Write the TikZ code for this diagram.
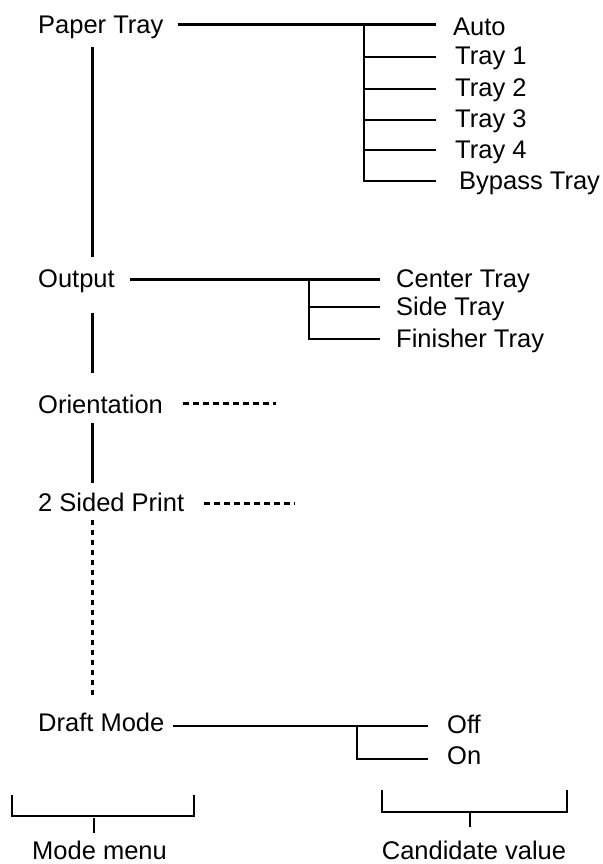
\documentclass[tikz,border=0pt]{standalone}
\usepackage{fontspec}
\setmainfont{Liberation Sans}
\usepackage{tikz}

\begin{document}
\begin{tikzpicture}[
  x=1pt,y=-1pt,
  lbl/.style={anchor=base west,inner sep=0pt,text height=21pt,text depth=5pt,
              font=\fontsize{25.5}{30}\selectfont},
  legendlbl/.style={lbl,anchor=base},
  link/.style={line width=2.6pt},
  todo/.style={line width=2.6pt,dash pattern=on 6pt off 4pt},
  skip/.style={line width=2.6pt,dash pattern=on 5pt off 5pt}
]
\useasboundingbox (0,0) rectangle (602,864);
\coordinate (trunk) at (92.6,0);
% mode menu column
\node[lbl] (paper) at (38,34) {Paper Tray};
\node[lbl] (out) at (38,287) {Output};
\node[lbl] (orient) at (38,413) {Orientation};
\node[lbl] (sided) at (38,511) {2 Sided Print};
\node[lbl] (draft) at (38,731) {Draft Mode};
% candidate values
\node[lbl] (auto) at (453,36) {Auto};
\node[lbl] (tray1) at (455,65) {Tray 1};
\node[lbl] (tray2) at (455,97) {Tray 2};
\node[lbl] (tray3) at (455,128) {Tray 3};
\node[lbl] (tray4) at (455,158) {Tray 4};
\node[lbl] (bypass) at (459,189) {Bypass Tray};
\node[lbl] (center) at (396,287) {Center Tray};
\node[lbl] (side) at (396,315) {Side Tray};
\node[lbl] (finisher) at (396,347) {Finisher Tray};
\node[lbl] (off) at (447,733) {Off};
\node[lbl] (on) at (447,764) {On};
% trunk
\draw[link] ([yshift=-8pt]trunk |- paper.south) -- ([yshift=9pt]trunk |- out.north);
\draw[link] ([yshift=-21pt]trunk |- out.south) -- ([yshift=19pt]trunk |- orient.north);
\draw[link] ([yshift=-5pt]trunk |- orient.south) -- ([yshift=7pt]trunk |- sided.north);
\draw[skip] ([yshift=-4pt]trunk |- sided.south) -- ([yshift=15pt]trunk |- draft.north);
% paper tray
\coordinate (paperj) at (364,24.3);
\draw[link] ([xshift=14pt]paper.east |- paperj) -- ([xshift=-17pt]auto.west |- paperj);
\draw[link] (paperj) -- (paperj |- bypass.west) -- ([xshift=-23pt]bypass.west);
\foreach \t in {tray1,tray2,tray3,tray4}
  \draw[link] (paperj |- \t.west) -- ([xshift=-19pt]\t.west);
% output
\coordinate (outj) at (309,279.3);
\draw[link] ([xshift=15pt]out.east |- outj) -- ([xshift=-16pt]center.west |- outj);
\draw[link] (outj) -- (outj |- finisher.west) -- ([xshift=-16pt]finisher.west);
\draw[link] (outj |- side.west) -- ([xshift=-16pt]side.west);
% not opened
\coordinate (orientend) at (276,403.3);
\coordinate (sidedend) at (295,503.3);
\draw[todo] ([xshift=20pt]orient.east |- orientend) -- (orientend);
\draw[todo] ([xshift=20pt]sided.east |- sidedend) -- (sidedend);
% draft mode
\coordinate (draftj) at (357,726);
\coordinate (onj) at (357,759);
\draw[link] ([xshift=8pt]draft.east |- draftj) -- ([xshift=-19pt]off.west |- draftj);
\draw[link] (draftj) -- (onj) -- ([xshift=-19pt]on.west |- onj);
% legend
\node[legendlbl] (modelbl) at (99.5,859) {Mode menu};
\node[legendlbl] (candlbl) at (474,859) {Candidate value};
\coordinate (modetick) at (94,818);
\coordinate (candtick) at (470,813);
\draw[link] (12,795) -- (12,816) -- (194,816) -- (194,795);
\draw[link] (modetick) -- ([yshift=5pt]modetick |- modelbl.north);
\draw[link] (382,790) -- (382,812) -- (567,812) -- (567,790);
\draw[link] (candtick) -- ([yshift=11pt]candtick |- candlbl.north);
\end{tikzpicture}
\end{document}
